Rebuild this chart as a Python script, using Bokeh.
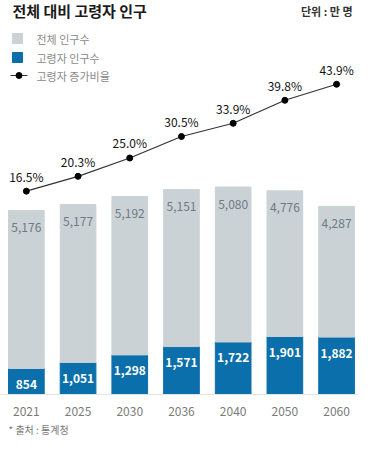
from bokeh.plotting import figure
from bokeh.models import ColumnDataSource, Range1d, FixedTicker, Label, Title
from bokeh.core.properties import value
from bokeh.embed import file_html
from bokeh.resources import INLINE

years = ["2021", "2025", "2030", "2036", "2040", "2050", "2060"]
total_pop = [5176, 5177, 5192, 5151, 5080, 4776, 4287]
elderly_pop = [854, 1051, 1298, 1571, 1722, 1901, 1882]
elderly_ratio = [16.5, 20.3, 25.0, 30.5, 33.9, 39.8, 43.9]

FONT = "Noto Sans CJK KR"
BLUE = "#0b6fab"
GRAY = "#cbd2d6"

W, H = 358, 394  # frame size in px

idx = list(range(len(years)))
stack_top = [e + t for e, t in zip(elderly_pop, total_pop)]
src = ColumnDataSource(dict(
    x=idx, year=years, total=total_pop, elderly=elderly_pop, top=stack_top,
    ratio=elderly_ratio,
    total_lbl=[f"{v:,}" for v in total_pop],
    elderly_lbl=[f"{v:,}" for v in elderly_pop],
    ratio_lbl=[f"{v:.1f}%" for v in elderly_ratio],
))

p = figure(width=W, height=438, output_backend="svg", toolbar_location=None,
           x_range=Range1d(-0.50, 6.424), y_range=Range1d(0, 12918),
           min_border_left=0, min_border_right=0, min_border_top=0, min_border_bottom=44)
p.outline_line_color = None
p.grid.grid_line_color = None
p.yaxis.visible = False

p.extra_y_ranges = {"pct": Range1d(-35.64, 65.38), "sy": Range1d(0, H)}
p.extra_x_ranges = {"sx": Range1d(0, W)}

# bars
p.vbar(x="x", bottom=0, top="elderly", width=0.69, color=BLUE, source=src)
p.vbar(x="x", bottom="elderly", top="top", width=0.69, color=GRAY, source=src)

p.text(x="x", y="top", text="total_lbl", source=src, text_align="center",
       text_baseline="middle", y_offset=17, text_font=value(FONT),
       text_font_size="12px", text_color="#6e7a84")
p.text(x="x", y="elderly", text="elderly_lbl", source=src, text_align="center",
       text_baseline="middle", y_offset=16, text_font=value(FONT),
       text_font_size="12px", text_font_style="bold", text_color="white")

# line
p.line(x="x", y="ratio", source=src, y_range_name="pct", line_color="#333333", line_width=1.2)
p.scatter(x="x", y="ratio", source=src, y_range_name="pct", size=6, color="black")
p.text(x="x", y="ratio", text="ratio_lbl", source=src, y_range_name="pct",
       text_align="center", text_baseline="middle", y_offset=-15,
       text_font=value(FONT), text_font_size="12px", text_color="#111111")

# x axis
p.xaxis.ticker = FixedTicker(ticks=idx)
p.xaxis.major_label_overrides = {i: y for i, y in zip(idx, years)}
p.xaxis.axis_line_color = "#e2e5e7"
p.xaxis.major_tick_line_color = None
p.xaxis.minor_tick_line_color = None
p.xaxis.major_label_text_font = FONT
p.xaxis.major_label_text_font_size = "12px"
p.xaxis.major_label_text_color = "#7a7a7a"
p.xaxis.major_label_standoff = 6


def stext(x, y, t, size, color, style="normal", align="left"):
    # x, y given in picture pixels from top-left
    p.add_layout(Label(x=x, y=H - y, text=t, x_range_name="sx", y_range_name="sy",
                       text_font=FONT, text_font_size=size, text_color=color,
                       text_font_style=style, text_align=align, text_baseline="middle"))


stext(12, 10, "전체 대비 고령자 인구", "15px", "#1a1a1a", "bold")
stext(352, 10, "단위 : 만 명", "11px", "#333333", "bold", "right")

# legend
p.scatter(x=[17], y=[H - 38], marker="square", size=10, color=GRAY,
          x_range_name="sx", y_range_name="sy")
p.scatter(x=[17], y=[H - 57], marker="square", size=10, color=BLUE,
          x_range_name="sx", y_range_name="sy")
p.line(x=[10, 27], y=[H - 75, H - 75], line_color="#333333", line_width=1.2,
       x_range_name="sx", y_range_name="sy")
p.scatter(x=[18.5], y=[H - 75], size=6, color="black",
          x_range_name="sx", y_range_name="sy")
stext(36, 38, "전체 인구수", "11px", "#8a8a8a")
stext(36, 57, "고령자 인구수", "11px", "#8a8a8a")
stext(36, 75, "고령자 증가비율", "11px", "#8a8a8a")

p.add_layout(Title(text="* 출처 : 통계청", align="left", offset=8,
                   text_font=FONT, text_font_size="10px", text_color="#777777",
                   text_font_style="normal", standoff=2), "below")

open("out.html", "w").write(file_html(p, INLINE))
